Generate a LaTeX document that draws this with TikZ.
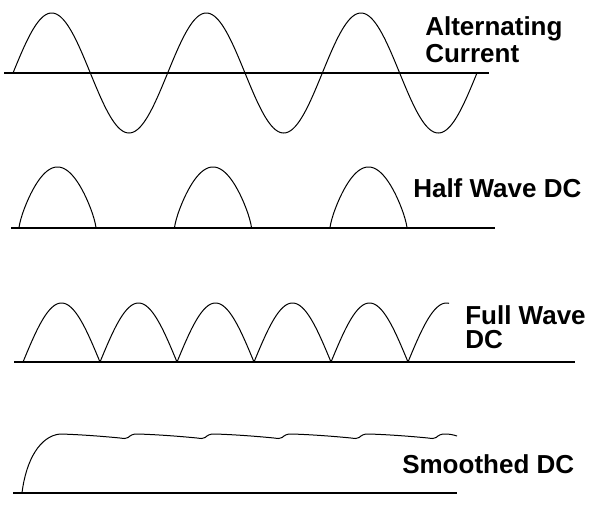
\documentclass[tikz,border=0pt]{standalone}
\usepackage{fontspec}
\setmainfont{Liberation Sans}
\begin{document}
\begin{tikzpicture}[x=0.75pt,y=-0.75pt,
  axis/.style={line width=1pt,black},
  wave/.style={line width=0.75pt,black,line join=round},
  lbl/.style={anchor=base west,inner sep=0pt,font=\fontsize{19.5}{20}\selectfont\bfseries}]
\useasboundingbox[fill=white] (0,0) rectangle (599,515);
% Alternating current
\draw[axis] (4,73) -- (489,73);
\draw[wave] plot[domain=0:1080,samples=361] ({13+\x/180*77.33},{73-60*sin(\x)});
\node[lbl] (ac1) at (425,35) {Alternating};
\node[lbl] (ac2) at (425,62) {Current};
% Half wave DC
\draw[axis] (11,228) -- (495,228);
\foreach \s in {19,174.5,330}
  \draw[wave] plot[domain=0:180,samples=181] ({\s+\x/180*77},{228-61*pow(max(abs(sin(\x)),0.0001),0.75)});
\node[lbl] (hw) at (413,197) {Half Wave DC};
% Full wave DC
\draw[axis] (14,362) -- (575,362);
\draw[wave] plot[domain=0:996,samples=499] ({23+\x/180*77},{362-59*abs(sin(\x))});
\node[lbl] (fw1) at (465,324) {Full Wave};
\node[lbl] (fw2) at (465,348) {DC};
% Smoothed DC
\draw[axis] (13,493) -- (457,493);
\draw[wave] (22,493) .. controls (26,460) and (40,436) .. (60,434)
  .. controls (80,434.5) and (105,436.5) .. (120,438)
  .. controls (124,438.5) and (126,439) .. (128,437.5)
  .. controls (131,435) and (133,434) .. (137,434)
  .. controls (157,434.5) and (182,436.5) .. (197,438)
  .. controls (201,438.5) and (203,439) .. (205,437.5)
  .. controls (208,435) and (210,434) .. (214,434)
  .. controls (234,434.5) and (259,436.5) .. (274,438)
  .. controls (278,438.5) and (280,439) .. (282,437.5)
  .. controls (285,435) and (287,434) .. (291,434)
  .. controls (311,434.5) and (336,436.5) .. (351,438)
  .. controls (355,438.5) and (357,439) .. (359,437.5)
  .. controls (362,435) and (364,434) .. (368,434)
  .. controls (388,434.5) and (413,436.5) .. (428,438)
  .. controls (432,438.5) and (434,439) .. (436,437.5)
  .. controls (439,435) and (441,434) .. (445,434)
  .. controls (450,434) and (454,435) .. (457,436);
\node[lbl] (sm) at (402,473) {Smoothed DC};
\end{tikzpicture}
\end{document}
